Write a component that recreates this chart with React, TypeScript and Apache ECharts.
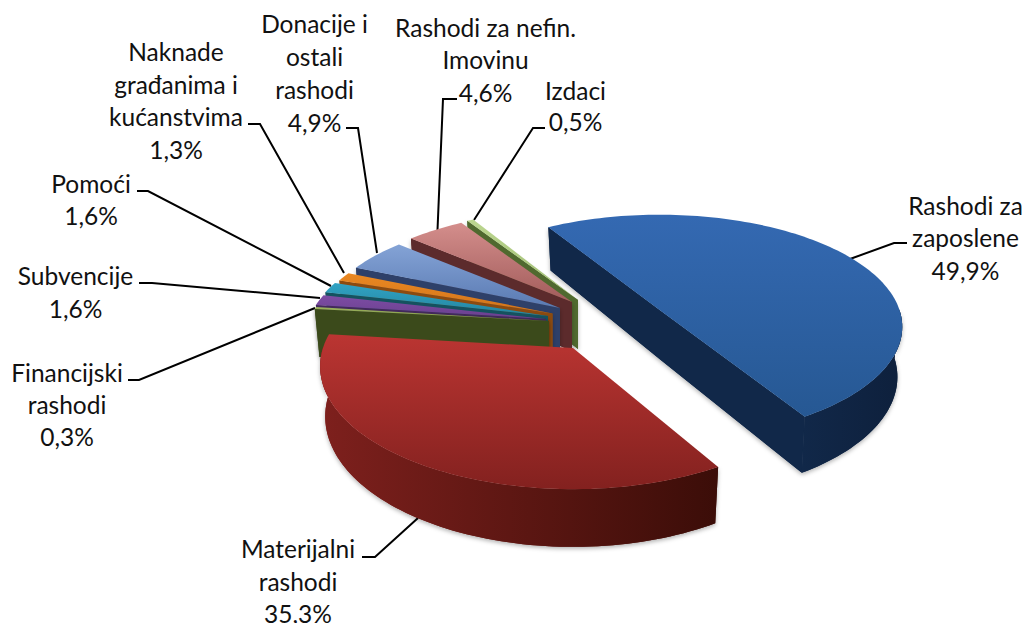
import React, { useEffect, useRef } from "react";
import * as echarts from "echarts";

const categories = [
  "Rashodi za zaposlene",
  "Materijalni rashodi",
  "Financijski rashodi",
  "Subvencije",
  "Pomoći",
  "Naknade građanima i kućanstvima",
  "Donacije i ostali rashodi",
  "Rashodi za nefin. Imovinu",
  "Izdaci",
];
const values = [49.9, 35.3, 0.3, 1.6, 1.6, 1.3, 4.9, 4.6, 0.5];
const labelLines = [
  ["Rashodi za", "zaposlene"],
  ["Materijalni", "rashodi"],
  ["Financijski", "rashodi"],
  ["Subvencije"],
  ["Pomoći"],
  ["Naknade", "građanima i", "kućanstvima"],
  ["Donacije i", "ostali", "rashodi"],
  ["Rashodi za nefin.", "Imovinu"],
  ["Izdaci"],
];

// Styling and placement, per slice in the same order as the values
const START_ANGLE = -120;
const PERSPECTIVE = 0.15;
const DEPTH = 49;
const BOTTOM_SHRINK = 0.98;
const apexes = [
  [659.5, 310], [573, 348], [549, 321], [546, 319], [548, 316], [552.5, 313.5], [560, 308], [572, 302], [578, 300],
];
const radii = [
  [240, 109.6], [250, 120], [240, 105], [237, 105], [237, 105], [237, 105], [237, 105], [237, 105], [237, 105],
];
const angleShift = [1.5, 0, 0, 0, 0, 0, 0, 0, 0];
const topColors = [
  ["#3469b2", "#265893"], ["#bb3532", "#83211f"], ["#9bb25c", "#7f9648"], ["#7d4da4", "#6a3f8e"], ["#31a3c4", "#24859f"],
  ["#ea8822", "#d2741a"], ["#84a3d6", "#5a7ab2"], ["#d48e8c", "#a25c5b"], ["#bcd690", "#9dbb70"],
];
const wallColors = [
  ["#112849", "#0e203c"], ["#7e201d", "#3b0d08"], ["#3b4a1b", "#2f3b13"], ["#43295c", "#352049"], ["#15525f", "#103f4b"],
  ["#8c4b10", "#77400d"], ["#2e4069", "#27375a"], ["#5c2b2c", "#4f2425"], ["#50692f", "#455b28"],
];
const paintOrder = [8, 7, 6, 5, 4, 3, 2, 1, 0];
const labelCenters = [
  [965.5, 237.5], [298, 581], [67, 404], [75.5, 291.5], [91, 199.5], [176, 100.5], [314.5, 72.5], [485.5, 59.5], [575.5, 105.5],
];
const labelLineHeights = [32.5, 32.5, 32, 33, 31.5, 32.7, 33, 32.5, 31];
const leaders = [
  [[907, 243], [894, 243], [850, 259]],
  [[362, 557], [375, 557], [418, 518]],
  [[128, 380], [139, 380], [315, 308]],
  [[139, 283], [152, 283], [320, 298]],
  [[137, 191], [148, 191], [331, 286]],
  [[248, 124], [260, 124], [344, 273]],
  [[346, 128], [358, 128], [377, 253]],
  [[457, 99], [443, 99], [437.5, 230]],
  [[545, 128], [533, 128], [474, 220]],
];

const total = values.reduce((s, v) => s + v, 0);
const spans: number[][] = [];
values.reduce((from, v, i) => {
  const to = from + (v / total) * 360;
  spans[i] = [from - angleShift[i], to - angleShift[i]];
  return to;
}, START_ANGLE);

const rad = (d: number) => (d * Math.PI) / 180;

function sliceShapes(i: number) {
  const [ax, ay] = apexes[i];
  const [rx, ry] = radii[i];
  const [t0, t1] = spans[i];
  const rim = (t: number) => {
    const u = Math.cos(rad(t));
    const v = Math.sin(rad(t));
    const w = 1 - PERSPECTIVE * v;
    const x = ax + (rx * u) / w;
    return { x, y: ay + (ry * v) / w, bx: ax + (x - ax) * BOTTOM_SHRINK, by: ay + (ry * v) / w + DEPTH / w };
  };
  const steps = Math.max(2, Math.ceil((t1 - t0) / 1.5));
  const angles: number[] = [];
  for (let s = 0; s <= steps; s++) angles.push(t0 + ((t1 - t0) * s) / steps);

  const hgrad = (c: string[]) => ({
    type: "linear", x: 0, y: 0, x2: 1, y2: 0,
    colorStops: [{ offset: 0, color: c[0] }, { offset: 1, color: c[1] }],
  });
  const vgrad = (c: string[]) => ({
    type: "linear", x: 0, y: 0, x2: 0, y2: 1,
    colorStops: [{ offset: 0, color: c[0] }, { offset: 1, color: c[1] }],
  });
  const shadow = { shadowBlur: 4, shadowColor: "rgba(0,0,0,0.3)", shadowOffsetY: 2 };
  const walls: { points: number[][]; fill: any }[] = [];

  // The radial walls that face the viewer form one folded strip through the apex
  const radialTop: number[][] = [];
  const radialBottom: number[][] = [];
  if (Math.sin(rad(t0 - 90)) > 0) {
    const p = rim(t0);
    radialTop.push([p.x, p.y]);
    radialBottom.push([p.bx, p.by]);
  }
  radialTop.push([ax, ay]);
  radialBottom.push([ax, ay + DEPTH]);
  if (Math.sin(rad(t1 + 90)) > 0) {
    const p = rim(t1);
    radialTop.push([p.x, p.y]);
    radialBottom.push([p.bx, p.by]);
  }
  if (radialTop.length > 1) {
    walls.push({ points: [...radialTop, ...radialBottom.reverse()], fill: wallColors[i][0] });
  }

  const front = angles.filter((t) => Math.sin(rad(t)) >= -0.02);
  if (front.length > 1) {
    const pts = front.map(rim);
    walls.push({
      points: [
        ...pts.map((p) => [p.x, p.y]),
        ...pts.slice().reverse().map((p) => [p.bx, p.by]),
      ],
      fill: hgrad(wallColors[i]),
    });
  }

  return [
    ...walls.map((w) => ({
      type: "polygon",
      shape: { points: w.points },
      style: { fill: w.fill, ...shadow },
    })),
    ...walls.map((w) => ({
      type: "polygon",
      shape: { points: w.points },
      style: { fill: w.fill },
    })),
    {
      type: "polygon",
      shape: { points: [[ax, ay], ...angles.map(rim).map((p) => [p.x, p.y])] },
      style: { fill: vgrad(topColors[i]) },
    },
  ];
}

export default function App() {
  const ref = useRef<HTMLDivElement>(null);
  useEffect(() => {
    document.body.style.margin = "0";
    const chart = echarts.init(ref.current!, null, { renderer: "svg" });
    const labelGraphics = categories.flatMap((_, i) => {
      const lines = [...labelLines[i], `${values[i].toFixed(1).replace(".", ",")}%`];
      return lines.map((line, k) => ({
        type: "text",
        x: labelCenters[i][0],
        y: labelCenters[i][1] + (k - (lines.length - 1) / 2) * labelLineHeights[i],
        silent: true,
        style: {
          text: line,
          fontFamily: "Lato",
          fontSize: 24.5,
          lineHeight: 24,
          fill: "#111111",
          align: "center",
          verticalAlign: "middle",
        },
      }));
    });
    const leaderGraphics = leaders.map((pts) => ({
      type: "polyline",
      silent: true,
      shape: { points: pts },
      style: { stroke: "#000000", lineWidth: 2, fill: "none" },
    }));
    chart.setOption({
      animation: false,
      backgroundColor: "#ffffff",
      series: [
        {
          type: "custom",
          coordinateSystem: "none",
          silent: true,
          data: paintOrder.map((i) => ({ name: categories[i], value: values[i] })),
          renderItem: (params: any) => ({
            type: "group",
            children: sliceShapes(paintOrder[params.dataIndex]),
          }),
        },
      ],
      graphic: { elements: [...leaderGraphics, ...labelGraphics] },
    });
    return () => chart.dispose();
  }, []);
  return <div ref={ref} style={{ width: 1026, height: 623, overflow: "hidden" }} />;
}
